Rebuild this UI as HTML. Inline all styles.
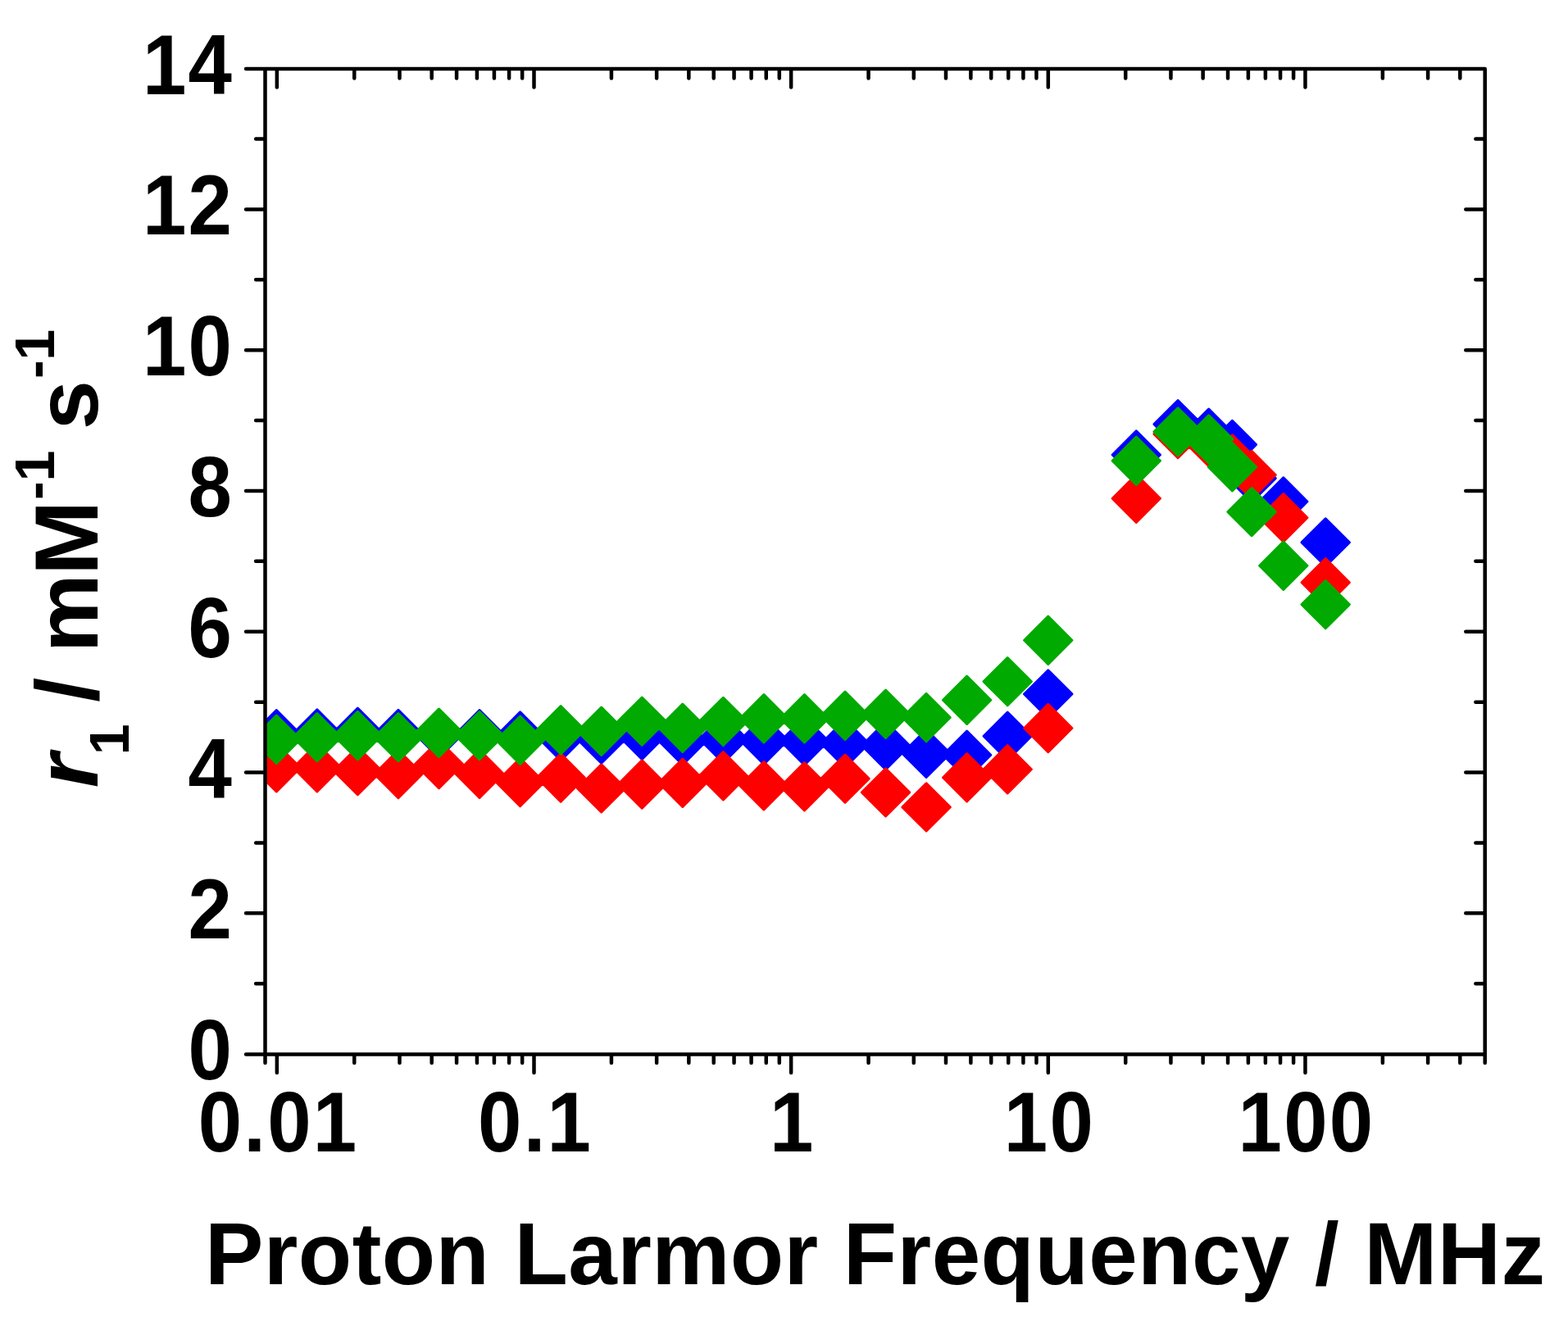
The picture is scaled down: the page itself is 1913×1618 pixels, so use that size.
<!DOCTYPE html>
<html lang="en"><head><meta charset="utf-8"><title>r1 relaxivity vs Proton Larmor Frequency</title>
<style>
html,body{margin:0;padding:0;background:#fff;}
body{width:1913px;height:1618px;overflow:hidden;}
svg{display:block;}
text{font-family:"Liberation Sans",Arial,Helvetica,sans-serif;font-weight:bold;fill:#000;}
.tick{font-size:100px;letter-spacing:2.3px;}
.ttl{font-size:107px;}
.ax{stroke:#000;stroke-width:4.50;stroke-linecap:round;fill:none;}
.red{fill:#ff0000;stroke:#ff0000;stroke-width:3.0;stroke-linejoin:round;}
.blue{fill:#0000ff;stroke:#0000ff;stroke-width:3.0;stroke-linejoin:round;}
.green{fill:#00aa00;stroke:#00aa00;stroke-width:3.0;stroke-linejoin:round;}
</style></head><body>
<svg width="1913" height="1618" viewBox="0 0 1913 1618">
<rect width="1913" height="1618" fill="#fff"/>
<defs><clipPath id="plot"><rect x="323.5" y="84.0" width="1488.2" height="1202.5"/></clipPath></defs>
<g clip-path="url(#plot)">
<path class="blue" d="M337.30 866.67L366.43 895.80L337.30 924.93L308.17 895.80ZM386.85 865.87L415.98 895.00L386.85 924.13L357.72 895.00ZM436.40 864.17L465.53 893.30L436.40 922.43L407.27 893.30ZM485.95 866.37L515.08 895.50L485.95 924.63L456.82 895.50ZM535.50 866.37L564.63 895.50L535.50 924.63L506.37 895.50ZM585.05 866.67L614.18 895.80L585.05 924.93L555.92 895.80ZM634.60 868.87L663.73 898.00L634.60 927.13L605.47 898.00ZM684.15 869.67L713.28 898.80L684.15 927.93L655.02 898.80ZM733.70 872.97L762.83 902.10L733.70 931.23L704.57 902.10ZM783.25 868.07L812.38 897.20L783.25 926.33L754.12 897.20ZM832.80 874.87L861.93 904.00L832.80 933.13L803.67 904.00ZM882.35 872.67L911.48 901.80L882.35 930.93L853.22 901.80ZM931.90 874.07L961.03 903.20L931.90 932.33L902.77 903.20ZM981.45 875.17L1010.58 904.30L981.45 933.43L952.32 904.30ZM1031.00 878.17L1060.13 907.30L1031.00 936.43L1001.87 907.30ZM1080.55 880.57L1109.68 909.70L1080.55 938.83L1051.42 909.70ZM1130.10 890.27L1159.23 919.40L1130.10 948.53L1100.97 919.40ZM1179.65 892.17L1208.78 921.30L1179.65 950.43L1150.52 921.30ZM1229.20 869.17L1258.33 898.30L1229.20 927.43L1200.07 898.30ZM1278.75 817.77L1307.88 846.90L1278.75 876.03L1249.62 846.90ZM1386.30 525.87L1415.43 555.00L1386.30 584.13L1357.17 555.00ZM1437.10 488.47L1466.23 517.60L1437.10 546.73L1407.97 517.60ZM1474.70 499.07L1503.83 528.20L1474.70 557.33L1445.57 528.20ZM1503.40 513.37L1532.53 542.50L1503.40 571.63L1474.27 542.50ZM1527.10 554.47L1556.23 583.60L1527.10 612.73L1497.97 583.60ZM1565.80 582.87L1594.93 612.00L1565.80 641.13L1536.67 612.00ZM1617.20 632.77L1646.33 661.90L1617.20 691.03L1588.07 661.90Z"/>
<path class="red" d="M337.30 907.67L366.43 936.80L337.30 965.93L308.17 936.80ZM386.85 907.67L415.98 936.80L386.85 965.93L357.72 936.80ZM436.40 911.47L465.53 940.60L436.40 969.73L407.27 940.60ZM485.95 915.37L515.08 944.50L485.95 973.63L456.82 944.50ZM535.50 903.47L564.63 932.60L535.50 961.73L506.37 932.60ZM585.05 915.07L614.18 944.20L585.05 973.33L555.92 944.20ZM634.60 925.37L663.73 954.50L634.60 983.63L605.47 954.50ZM684.15 919.87L713.28 949.00L684.15 978.13L655.02 949.00ZM733.70 932.77L762.83 961.90L733.70 991.03L704.57 961.90ZM783.25 927.87L812.38 957.00L783.25 986.13L754.12 957.00ZM832.80 926.17L861.93 955.30L832.80 984.43L803.67 955.30ZM882.35 917.67L911.48 946.80L882.35 975.93L853.22 946.80ZM931.90 929.67L961.03 958.80L931.90 987.93L902.77 958.80ZM981.45 930.67L1010.58 959.80L981.45 988.93L952.32 959.80ZM1031.00 920.97L1060.13 950.10L1031.00 979.23L1001.87 950.10ZM1080.55 937.77L1109.68 966.90L1080.55 996.03L1051.42 966.90ZM1130.10 955.77L1159.23 984.90L1130.10 1014.03L1100.97 984.90ZM1179.65 919.57L1208.78 948.70L1179.65 977.83L1150.52 948.70ZM1229.20 909.57L1258.33 938.70L1229.20 967.83L1200.07 938.70ZM1278.75 859.37L1307.88 888.50L1278.75 917.63L1249.62 888.50ZM1386.30 579.07L1415.43 608.20L1386.30 637.33L1357.17 608.20ZM1437.10 500.47L1466.23 529.60L1437.10 558.73L1407.97 529.60ZM1474.70 510.47L1503.83 539.60L1474.70 568.73L1445.57 539.60ZM1503.40 530.87L1532.53 560.00L1503.40 589.13L1474.27 560.00ZM1527.10 550.37L1556.23 579.50L1527.10 608.63L1497.97 579.50ZM1565.80 602.67L1594.93 631.80L1565.80 660.93L1536.67 631.80ZM1617.20 681.57L1646.33 710.70L1617.20 739.83L1588.07 710.70Z"/>
<path class="green" d="M337.30 873.07L366.43 902.20L337.30 931.33L308.17 902.20ZM386.85 870.47L415.98 899.60L386.85 928.73L357.72 899.60ZM436.40 868.37L465.53 897.50L436.40 926.63L407.27 897.50ZM485.95 870.47L515.08 899.60L485.95 928.73L456.82 899.60ZM535.50 865.17L564.63 894.30L535.50 923.43L506.37 894.30ZM585.05 868.47L614.18 897.60L585.05 926.73L555.92 897.60ZM634.60 874.17L663.73 903.30L634.60 932.43L605.47 903.30ZM684.15 861.67L713.28 890.80L684.15 919.93L655.02 890.80ZM733.70 863.17L762.83 892.30L733.70 921.43L704.57 892.30ZM783.25 850.97L812.38 880.10L783.25 909.23L754.12 880.10ZM832.80 859.17L861.93 888.30L832.80 917.43L803.67 888.30ZM882.35 851.27L911.48 880.40L882.35 909.53L853.22 880.40ZM931.90 847.67L961.03 876.80L931.90 905.93L902.77 876.80ZM981.45 847.67L1010.58 876.80L981.45 905.93L952.32 876.80ZM1031.00 844.17L1060.13 873.30L1031.00 902.43L1001.87 873.30ZM1080.55 842.07L1109.68 871.20L1080.55 900.33L1051.42 871.20ZM1130.10 846.37L1159.23 875.50L1130.10 904.63L1100.97 875.50ZM1179.65 825.17L1208.78 854.30L1179.65 883.43L1150.52 854.30ZM1229.20 802.47L1258.33 831.60L1229.20 860.73L1200.07 831.60ZM1278.75 752.07L1307.88 781.20L1278.75 810.33L1249.62 781.20ZM1386.30 533.17L1415.43 562.30L1386.30 591.43L1357.17 562.30ZM1437.10 497.77L1466.23 526.90L1437.10 556.03L1407.97 526.90ZM1474.70 506.77L1503.83 535.90L1474.70 565.03L1445.57 535.90ZM1503.40 540.67L1532.53 569.80L1503.40 598.93L1474.27 569.80ZM1527.10 595.47L1556.23 624.60L1527.10 653.73L1497.97 624.60ZM1565.80 661.07L1594.93 690.20L1565.80 719.33L1536.67 690.20ZM1617.20 708.47L1646.33 737.60L1617.20 766.73L1588.07 737.60Z"/>
</g>
<path class="ax" d="M300.05 84.00L1811.70 84.00M300.05 1286.50L1811.70 1286.50M323.50 84.00L323.50 1297.05M1811.70 84.00L1811.70 1297.05M337.85 1286.50L337.85 1308.95M337.85 84.00L337.85 106.45M432.27 1286.50L432.27 1297.05M432.27 84.00L432.27 95.55M487.50 1286.50L487.50 1297.05M487.50 84.00L487.50 95.55M526.69 1286.50L526.69 1297.05M526.69 84.00L526.69 95.55M557.08 1286.50L557.08 1297.05M557.08 84.00L557.08 95.55M581.92 1286.50L581.92 1297.05M581.92 84.00L581.92 95.55M602.92 1286.50L602.92 1297.05M602.92 84.00L602.92 95.55M621.10 1286.50L621.10 1297.05M621.10 84.00L621.10 95.55M637.15 1286.50L637.15 1297.05M637.15 84.00L637.15 95.55M651.50 1286.50L651.50 1308.95M651.50 84.00L651.50 106.45M745.92 1286.50L745.92 1297.05M745.92 84.00L745.92 95.55M801.15 1286.50L801.15 1297.05M801.15 84.00L801.15 95.55M840.34 1286.50L840.34 1297.05M840.34 84.00L840.34 95.55M870.73 1286.50L870.73 1297.05M870.73 84.00L870.73 95.55M895.57 1286.50L895.57 1297.05M895.57 84.00L895.57 95.55M916.57 1286.50L916.57 1297.05M916.57 84.00L916.57 95.55M934.75 1286.50L934.75 1297.05M934.75 84.00L934.75 95.55M950.80 1286.50L950.80 1297.05M950.80 84.00L950.80 95.55M965.15 1286.50L965.15 1308.95M965.15 84.00L965.15 106.45M1059.57 1286.50L1059.57 1297.05M1059.57 84.00L1059.57 95.55M1114.80 1286.50L1114.80 1297.05M1114.80 84.00L1114.80 95.55M1153.99 1286.50L1153.99 1297.05M1153.99 84.00L1153.99 95.55M1184.38 1286.50L1184.38 1297.05M1184.38 84.00L1184.38 95.55M1209.22 1286.50L1209.22 1297.05M1209.22 84.00L1209.22 95.55M1230.22 1286.50L1230.22 1297.05M1230.22 84.00L1230.22 95.55M1248.40 1286.50L1248.40 1297.05M1248.40 84.00L1248.40 95.55M1264.45 1286.50L1264.45 1297.05M1264.45 84.00L1264.45 95.55M1278.80 1286.50L1278.80 1308.95M1278.80 84.00L1278.80 106.45M1373.22 1286.50L1373.22 1297.05M1373.22 84.00L1373.22 95.55M1428.45 1286.50L1428.45 1297.05M1428.45 84.00L1428.45 95.55M1467.64 1286.50L1467.64 1297.05M1467.64 84.00L1467.64 95.55M1498.03 1286.50L1498.03 1297.05M1498.03 84.00L1498.03 95.55M1522.87 1286.50L1522.87 1297.05M1522.87 84.00L1522.87 95.55M1543.87 1286.50L1543.87 1297.05M1543.87 84.00L1543.87 95.55M1562.05 1286.50L1562.05 1297.05M1562.05 84.00L1562.05 95.55M1578.10 1286.50L1578.10 1297.05M1578.10 84.00L1578.10 95.55M1592.45 1286.50L1592.45 1308.95M1592.45 84.00L1592.45 106.45M1686.87 1286.50L1686.87 1297.05M1686.87 84.00L1686.87 95.55M1742.10 1286.50L1742.10 1297.05M1742.10 84.00L1742.10 95.55M1781.29 1286.50L1781.29 1297.05M1781.29 84.00L1781.29 95.55M312.15 1200.21L323.50 1200.21M1800.35 1200.21L1811.70 1200.21M300.05 1114.31L323.50 1114.31M1788.25 1114.31L1811.70 1114.31M312.15 1028.42L323.50 1028.42M1800.35 1028.42L1811.70 1028.42M300.05 942.53L323.50 942.53M1788.25 942.53L1811.70 942.53M312.15 856.64L323.50 856.64M1800.35 856.64L1811.70 856.64M300.05 770.74L323.50 770.74M1788.25 770.74L1811.70 770.74M312.15 684.85L323.50 684.85M1800.35 684.85L1811.70 684.85M300.05 598.96L323.50 598.96M1788.25 598.96L1811.70 598.96M312.15 513.06L323.50 513.06M1800.35 513.06L1811.70 513.06M300.05 427.17L323.50 427.17M1788.25 427.17L1811.70 427.17M312.15 341.28L323.50 341.28M1800.35 341.28L1811.70 341.28M300.05 255.39L323.50 255.39M1788.25 255.39L1811.70 255.39M312.15 169.49L323.50 169.49M1800.35 169.49L1811.70 169.49"/>
<g class="tick">
<text transform="translate(285.2 1317.1) scale(0.96 1.035)" text-anchor="end">0</text>
<text transform="translate(285.2 1145.3) scale(0.96 1.035)" text-anchor="end">2</text>
<text transform="translate(285.2 973.5) scale(0.96 1.035)" text-anchor="end">4</text>
<text transform="translate(285.2 801.7) scale(0.96 1.035)" text-anchor="end">6</text>
<text transform="translate(285.2 630.0) scale(0.96 1.035)" text-anchor="end">8</text>
<text transform="translate(285.2 458.2) scale(0.96 1.035)" text-anchor="end">10</text>
<text transform="translate(285.2 286.4) scale(0.96 1.035)" text-anchor="end">12</text>
<text transform="translate(285.2 114.6) scale(0.96 1.035)" text-anchor="end">14</text>
<text transform="translate(339.5 1404.7) scale(0.96 1.035)" text-anchor="middle">0.01</text>
<text transform="translate(653.1 1404.7) scale(0.96 1.035)" text-anchor="middle">0.1</text>
<text transform="translate(966.8 1404.7) scale(0.96 1.035)" text-anchor="middle">1</text>
<text transform="translate(1280.4 1404.7) scale(0.96 1.035)" text-anchor="middle">10</text>
<text transform="translate(1594.0 1404.7) scale(0.96 1.035)" text-anchor="middle">100</text>
</g>
<text class="ttl" transform="translate(250 1567) scale(1 1.01)" textLength="1635" lengthAdjust="spacing">Proton Larmor Frequency / MHz</text>
<text class="ttl" transform="translate(118.8 1000) rotate(-90)"><tspan x="38.65" y="0.00" font-size="108" font-style="italic">r</tspan><tspan x="78.70" y="37.80" font-size="68">1</tspan> <tspan x="143.35" y="0.00" font-size="108">/</tspan> <tspan x="203.70" y="0.00" font-size="108">m</tspan><tspan x="298.30" y="0.00" font-size="109">M</tspan><tspan x="390.00" y="-53.20" font-size="68">-</tspan><tspan x="412.40" y="-53.20" font-size="68">1</tspan> <tspan x="475.70" y="0.00" font-size="108">s</tspan><tspan x="538.00" y="-53.20" font-size="68">-</tspan><tspan x="560.35" y="-53.20" font-size="68">1</tspan></text>
</svg></body></html>
